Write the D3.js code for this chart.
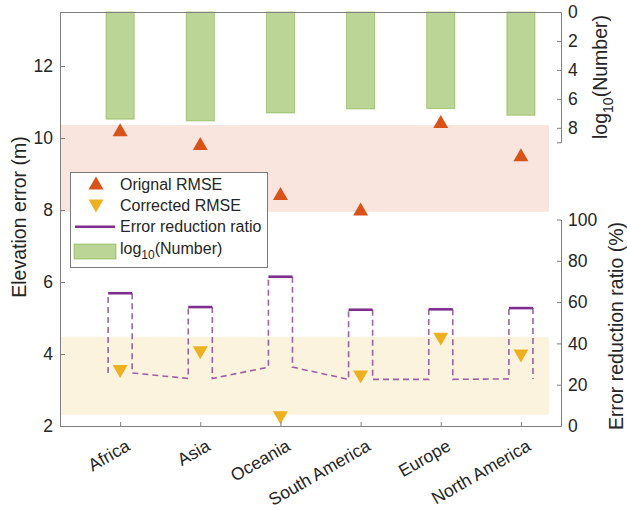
<!DOCTYPE html>
<html>
<head>
<meta charset="utf-8">
<script src="https://cdn.jsdelivr.net/npm/d3@7/dist/d3.min.js"></script>
<style>
  html, body { margin: 0; padding: 0; background: #fff; }
  svg { display: block; font-family: "Liberation Sans", Arial, Helvetica, sans-serif; }
</style>
</head>
<body>
<svg id="chart" width="627" height="510"></svg>
<script>
// ---- data ----
const categories = ["Africa", "Asia", "Oceania", "South America", "Europe", "North America"];
const originalRMSE = [10.2, 9.82, 8.43, 8.0, 10.43, 9.51];
const correctedRMSE = [3.54, 4.06, 2.26, 3.39, 4.44, 3.97];
const reductionRatio = [64.3, 57.6, 72.3, 56.3, 56.5, 57.1];
const ratioBase = [25.7, 23.0, 28.5, 22.6, 22.6, 22.8];
const logNumber = [7.4, 7.52, 6.97, 6.69, 6.66, 7.13];
const originalBand = [7.95, 10.36];
const correctedBand = [2.31, 4.48];
const leftTicks = [2, 4, 6, 8, 10, 12];
const logTicks = [0, 2, 4, 6, 8];
const ratioTicks = [0, 20, 40, 60, 80, 100];

// ---- colours ----
const cOrig = "#D95319", cCorr = "#EDB120", cRatio = "#7E2F8E", cGreen = "#77AC30";
const axisCol = "#808080", textCol = "#262626";

const svg = d3.select("#chart");
const L = 60, R = 561, T = 12, B = 426;

const x = d3.scaleLinear().domain([0.25, 6.5]).range([L, R]);
const yL = d3.scaleLinear().domain([2, 13.5]).range([B, T]);
const yLog = d3.scaleLinear().domain([0, 9]).range([T, 142.3]);
const yR = d3.scaleLinear().domain([0, 100]).range([B, 219.5]);

const pos = categories.map((c, i) => i + 1);

// bands
svg.append("rect")
  .attr("x", x(0.25)).attr("width", x(6.35) - x(0.25))
  .attr("y", yL(originalBand[1])).attr("height", yL(originalBand[0]) - yL(originalBand[1]))
  .attr("fill", cOrig).attr("fill-opacity", 0.15);
svg.append("rect")
  .attr("x", x(0.25)).attr("width", x(6.35) - x(0.25))
  .attr("y", yL(correctedBand[1])).attr("height", yL(correctedBand[0]) - yL(correctedBand[1]))
  .attr("fill", cCorr).attr("fill-opacity", 0.15);

// bars (log10 Number)
const bw = 0.35;
svg.append("g").selectAll("rect").data(logNumber).join("rect")
  .attr("x", (d, i) => x(pos[i] - bw / 2))
  .attr("width", x(bw) - x(0))
  .attr("y", yLog(0))
  .attr("height", d => yLog(d) - yLog(0))
  .attr("fill", cGreen).attr("fill-opacity", 0.5)
  .attr("stroke", cGreen).attr("stroke-opacity", 0.55).attr("stroke-width", 1);

// error reduction ratio: dashed path + solid tops
const hw = 0.15;
const dashPts = [];
pos.forEach((p, i) => {
  dashPts.push([p - hw, ratioBase[i]]);
  dashPts.push([p - hw, reductionRatio[i]]);
  dashPts.push(null);
  dashPts.push([p + hw, reductionRatio[i]]);
  dashPts.push([p + hw, ratioBase[i]]);
});
const line = d3.line().defined(d => d !== null).x(d => x(d[0])).y(d => yR(d[1]));
svg.append("path").datum(dashPts)
  .attr("d", line).attr("fill", "none")
  .attr("stroke", cRatio).attr("stroke-opacity", 0.75)
  .attr("stroke-width", 1.6).attr("stroke-dasharray", "6,4");
svg.append("g").selectAll("line").data(reductionRatio).join("line")
  .attr("x1", (d, i) => x(pos[i] - hw)).attr("x2", (d, i) => x(pos[i] + hw))
  .attr("y1", d => yR(d)).attr("y2", d => yR(d))
  .attr("stroke", cRatio).attr("stroke-width", 2.6);

// markers
const triUp = "M0,-7.5L7.5,5.5L-7.5,5.5Z";
const triDown = "M0,7.5L7.5,-5.5L-7.5,-5.5Z";
svg.append("g").selectAll("path").data(originalRMSE).join("path")
  .attr("d", triUp).attr("transform", (d, i) => `translate(${x(pos[i])},${yL(d)})`)
  .attr("fill", cOrig);
svg.append("g").selectAll("path").data(correctedRMSE).join("path")
  .attr("d", triDown).attr("transform", (d, i) => `translate(${x(pos[i])},${yL(d)})`)
  .attr("fill", cCorr);

// axes
function styleAxis(g) {
  g.selectAll(".domain").attr("stroke", axisCol);
  g.selectAll(".tick line").attr("stroke", axisCol);
  g.selectAll(".tick text").attr("fill", textCol).style("font-size", "17.5px")
    .style("font-family", '"Liberation Sans", Arial, sans-serif');
}
svg.append("line").attr("x1", L).attr("x2", R).attr("y1", T + 0.5).attr("y2", T + 0.5).attr("stroke", axisCol);

const gl = svg.append("g").attr("transform", `translate(${L},0)`)
  .call(d3.axisLeft(yL).tickValues(leftTicks).tickSize(-5).tickSizeOuter(0).tickPadding(7));
styleAxis(gl);

const gb = svg.append("g").attr("transform", `translate(0,${B})`)
  .call(d3.axisBottom(x).tickValues(pos).tickSize(-4).tickSizeOuter(0).tickFormat(""));
styleAxis(gb);

const grl = svg.append("g").attr("transform", `translate(${R},0)`)
  .call(d3.axisRight(yLog).tickValues(logTicks).tickSize(-4).tickSizeOuter(-4).tickPadding(7));
styleAxis(grl);

const grr = svg.append("g").attr("transform", `translate(${R},0)`)
  .call(d3.axisRight(yR).tickValues(ratioTicks).tickSize(-4).tickSizeOuter(0).tickPadding(7));
styleAxis(grr);

// category labels
svg.append("g").selectAll("text").data(categories).join("text")
  .attr("transform", (d, i) => `translate(${x(pos[i]) + 8},${B + 18}) rotate(-30)`)
  .attr("text-anchor", "end")
  .attr("dy", "0.35em")
  .attr("fill", textCol).style("font-size", "17.5px")
  .text(d => d);

// axis titles
svg.append("text").attr("transform", `translate(26,217) rotate(-90)`)
  .attr("text-anchor", "middle").attr("fill", textCol).style("font-size", "19.5px")
  .text("Elevation error (m)");
const lt = svg.append("text").attr("transform", `translate(607,77) rotate(-90)`)
  .attr("text-anchor", "middle").attr("fill", textCol).style("font-size", "19.5px");
lt.append("tspan").text("log");
lt.append("tspan").attr("dy", 6).style("font-size", "14px").text("10");
lt.append("tspan").attr("dy", -6).text("(Number)");
svg.append("text").attr("transform", `translate(623,326) rotate(-90)`)
  .attr("text-anchor", "middle").attr("fill", textCol).style("font-size", "19.5px")
  .text("Error reduction ratio (%)");

// legend
const lg = svg.append("g");
lg.append("rect").attr("x", 70.5).attr("y", 172.5).attr("width", 197).attr("height", 95)
  .attr("fill", "#fff").attr("stroke", "#7a7a7a");
const rows = [184, 205, 226.7, 248.3];
lg.append("path").attr("d", triUp).attr("transform", `translate(96,${rows[0]})`).attr("fill", cOrig);
lg.append("path").attr("d", triDown).attr("transform", `translate(96,${rows[1]})`).attr("fill", cCorr);
lg.append("line").attr("x1", 75).attr("x2", 115).attr("y1", rows[2]).attr("y2", rows[2])
  .attr("stroke", cRatio).attr("stroke-width", 2.6);
lg.append("rect").attr("x", 74).attr("y", 244).attr("width", 42).attr("height", 15)
  .attr("fill", cGreen).attr("fill-opacity", 0.5).attr("stroke", cGreen).attr("stroke-opacity", 0.55);
const ltext = ["Orignal RMSE", "Corrected RMSE", "Error reduction ratio"];
ltext.forEach((t, i) => {
  lg.append("text").attr("x", 120).attr("y", rows[i]).attr("dy", "0.35em")
    .attr("fill", textCol).style("font-size", "16px").text(t);
});
const l4 = lg.append("text").attr("x", 120).attr("y", rows[3]).attr("dy", "0.35em")
  .attr("fill", textCol).style("font-size", "16px");
l4.append("tspan").text("log");
l4.append("tspan").attr("dy", 5).style("font-size", "12px").text("10");
l4.append("tspan").attr("dy", -5).text("(Number)");
</script>
</body>
</html>
